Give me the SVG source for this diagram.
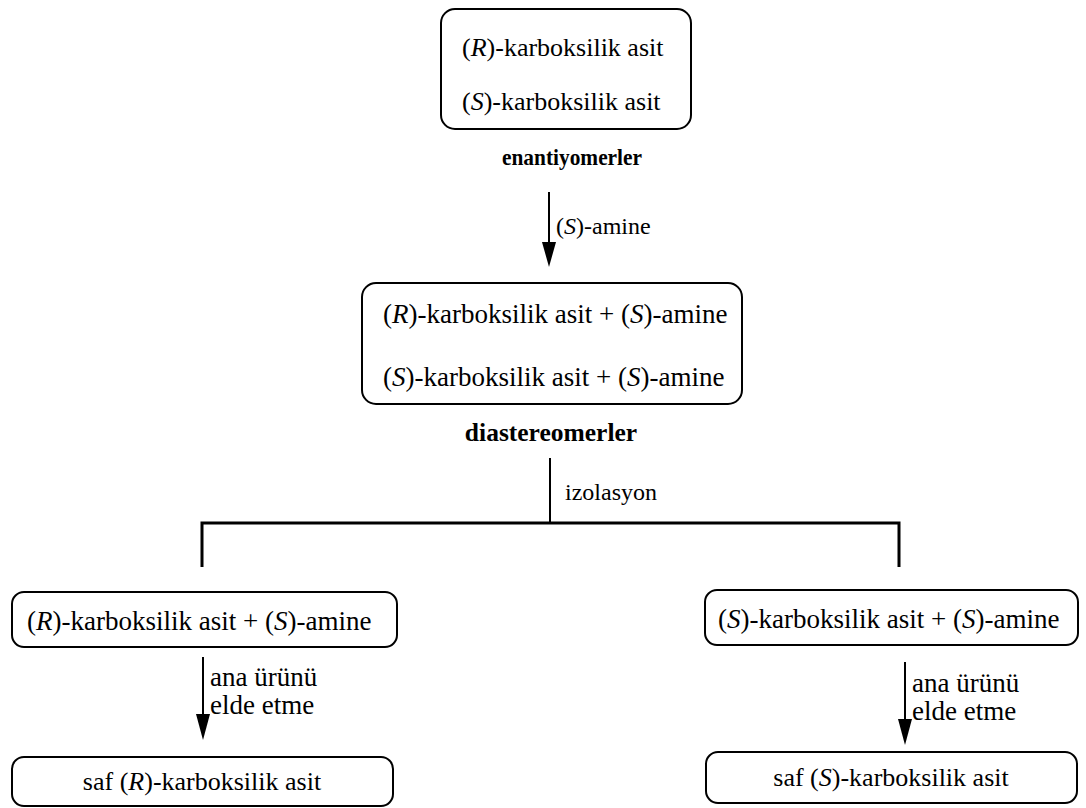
<svg xmlns="http://www.w3.org/2000/svg" width="1086" height="808" viewBox="0 0 1086 808">
<style>
.box{fill:#fff;stroke:#000;stroke-width:2}
.t{font-family:"Liberation Serif","Times New Roman",serif;font-size:26px;fill:#000}
.t27{font-family:"Liberation Serif","Times New Roman",serif;font-size:27px;fill:#000}
.lbl{font-family:"Liberation Serif","Times New Roman",serif;font-size:24px;fill:#000}
.lbl2{font-family:"Liberation Serif","Times New Roman",serif;font-size:27px;fill:#000}
.b{font-family:"Liberation Serif","Times New Roman",serif;font-weight:bold;fill:#000}
.i{font-style:italic}
.ln{stroke:#000;stroke-width:2;fill:none}
.thick{stroke:#000;stroke-width:3;fill:none}
</style>
<g id="connectors">
<line class="ln" x1="549" y1="192" x2="549" y2="244"/>
<path d="M542,242 L556,242 L549,267 Z" fill="#000"/>
<line class="ln" x1="550" y1="458" x2="550" y2="523"/>
<path class="thick" d="M202,567 L202,523 L899,523 L899,567"/>
<line class="ln" x1="203" y1="657" x2="203" y2="716"/>
<path d="M196,714 L210,714 L203,740 Z" fill="#000"/>
<line class="ln" x1="905" y1="662" x2="905" y2="721"/>
<path d="M898,719 L912,719 L905,745 Z" fill="#000"/>
<text class="lbl" x="556" y="234"><tspan>(</tspan><tspan class="i">S</tspan><tspan>)-amine</tspan></text>
<text class="lbl" x="565" y="500">izolasyon</text>
<text class="lbl2" x="210" y="686">ana ürünü</text>
<text class="lbl2" x="210" y="714">elde etme</text>
<text class="lbl2" x="912" y="692">ana ürünü</text>
<text class="lbl2" x="912" y="720">elde etme</text>
</g>
<g id="node-enantiomers">
<rect class="box" x="441" y="9" width="250" height="120" rx="14"/>
<text class="t" x="462" y="56">(<tspan class="i">R</tspan>)-karboksilik asit</text>
<text class="t" x="462" y="110">(<tspan class="i">S</tspan>)-karboksilik asit</text>
<text class="b" x="502" y="165" font-size="24" textLength="140" lengthAdjust="spacingAndGlyphs">enantiyomerler</text>
</g>
<g id="node-diastereomers">
<rect class="box" x="362" y="283" width="380" height="121" rx="14"/>
<text class="t27" x="383" y="323">(<tspan class="i">R</tspan>)-karboksilik asit +  (<tspan class="i">S</tspan>)-amine</text>
<text class="t27" x="383" y="386">(<tspan class="i">S</tspan>)-karboksilik asit + (<tspan class="i">S</tspan>)-amine</text>
<text class="b" x="551" y="441" font-size="25.5" text-anchor="middle">diastereomerler</text>
</g>
<g id="node-left-salt">
<rect class="box" x="12" y="592" width="385" height="55" rx="12"/>
<text class="t27" x="27" y="630">(<tspan class="i">R</tspan>)-karboksilik asit +  (<tspan class="i">S</tspan>)-amine</text>
</g>
<g id="node-right-salt">
<rect class="box" x="705" y="590" width="373" height="55" rx="12"/>
<text class="t27" x="718" y="628">(<tspan class="i">S</tspan>)-karboksilik asit + (<tspan class="i">S</tspan>)-amine</text>
</g>
<g id="node-left-pure">
<rect class="box" x="12" y="757" width="381" height="49" rx="12"/>
<text class="t" x="202" y="790" text-anchor="middle">saf (<tspan class="i">R</tspan>)-karboksilik asit</text>
</g>
<g id="node-right-pure">
<rect class="box" x="706" y="752" width="371" height="51" rx="12"/>
<text class="t" x="891" y="786" text-anchor="middle">saf (<tspan class="i">S</tspan>)-karboksilik asit</text>
</g>
</svg>
